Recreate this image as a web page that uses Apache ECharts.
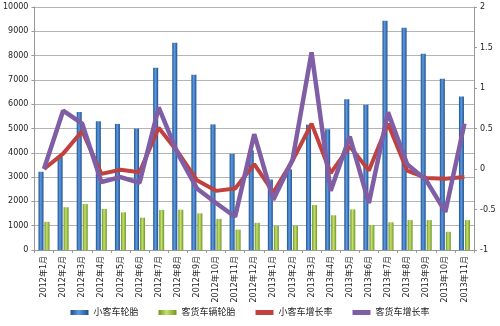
<!DOCTYPE html>
<html><head><meta charset="utf-8">
<script src="https://cdn.jsdelivr.net/npm/echarts@6/dist/echarts.min.js"></script>
<style>html,body{margin:0;padding:0;background:#fff}#c{width:500px;height:326px}</style>
</head><body><div id="c"></div>
<script>
const categories = ['2012年1月','2012年2月','2012年3月','2012年4月','2012年5月','2012年6月','2012年7月','2012年8月','2012年9月','2012年10月','2012年11月','2012年12月','2013年1月','2013年2月','2013年3月','2013年4月','2013年5月','2013年6月','2013年7月','2013年8月','2013年9月','2013年10月','2013年11月'];
const carTyres = [3220,3830,5680,5300,5190,5000,7500,8530,7210,5170,3960,4100,2900,3320,5160,4970,6200,5980,9430,9150,8080,7050,6320];
const truckTyres = [1160,1760,1890,1690,1550,1330,1650,1660,1510,1280,840,1120,990,990,1850,1430,1670,1030,1140,1230,1230,750,1230];
const carGrowth = [0.0,0.19,0.47,-0.06,-0.01,-0.04,0.51,0.21,-0.14,-0.27,-0.24,0.06,-0.29,0.10,0.56,-0.05,0.28,-0.02,0.56,-0.02,-0.11,-0.12,-0.10];
const truckGrowth = [0.0,0.72,0.56,-0.16,-0.10,-0.17,0.76,0.19,-0.24,-0.42,-0.59,0.43,-0.38,0.11,1.44,-0.27,0.40,-0.42,0.70,0.06,-0.14,-0.53,0.56];
const leftTicks = {min:0,max:10000,interval:1000};
const rightTicks = {min:-1,max:2,interval:0.5};

const grad = (d, l) => new echarts.graphic.LinearGradient(0,0,1,0,[{offset:0,color:d},{offset:0.45,color:l},{offset:1,color:d}]);
const chart = echarts.init(document.getElementById('c'));
const font = 'DejaVu Sans, Noto Sans CJK SC, sans-serif';
chart.setOption({
  animation:false,
  textStyle:{fontFamily:font},
  grid:{left:34,right:26,top:7,bottom:76},
  legend:{
    bottom:4,left:'center',itemWidth:18,itemHeight:5,itemGap:20,
    textStyle:{fontSize:9,color:'#222',fontFamily:font},
    data:[
      {name:'小客车轮胎',icon:'rect'},
      {name:'客货车辆轮胎',icon:'rect'},
      {name:'小客车增长率',icon:'rect'},
      {name:'客货车增长率',icon:'rect'}
    ]
  },
  xAxis:{
    type:'category',data:categories,boundaryGap:true,
    axisLine:{lineStyle:{color:'#999'}},
    axisTick:{show:true,length:3,lineStyle:{color:'#999'}},
    axisLabel:{rotate:90,fontSize:8,color:'#222',margin:6,interval:0}
  },
  yAxis:[
    {type:'value',min:leftTicks.min,max:leftTicks.max,interval:leftTicks.interval,
     axisLine:{show:true,lineStyle:{color:'#999'}},
     axisTick:{show:true,length:3,lineStyle:{color:'#999'}},
     axisLabel:{fontSize:8,color:'#222',margin:6,formatter:v=>String(v)},
     splitLine:{lineStyle:{color:'#b5b5b5'}}},
    {type:'value',min:rightTicks.min,max:rightTicks.max,interval:rightTicks.interval,
     axisLine:{show:true,lineStyle:{color:'#999'}},
     axisTick:{show:true,length:3,lineStyle:{color:'#999'}},
     axisLabel:{fontSize:8,color:'#222',margin:6,formatter:v=>String(v)},
     splitLine:{show:false}}
  ],
  series:[
    {name:'小客车轮胎',type:'bar',data:carTyres,barWidth:5,barGap:'20%',
     itemStyle:{color:grad('#1d4f8f','#5d9be0')}},
    {name:'客货车辆轮胎',type:'bar',data:truckTyres,barWidth:5,
     itemStyle:{color:grad('#6f9425','#c4e26c')}},
    {name:'小客车增长率',type:'line',yAxisIndex:1,data:carGrowth,showSymbol:false,
     lineStyle:{color:'#c0413d',width:4},itemStyle:{color:'#c0413d'}},
    {name:'客货车增长率',type:'line',yAxisIndex:1,data:truckGrowth,showSymbol:false,
     lineStyle:{color:'#7f5ea6',width:4.5},itemStyle:{color:'#7f5ea6'}}
  ]
});
</script></body></html>
